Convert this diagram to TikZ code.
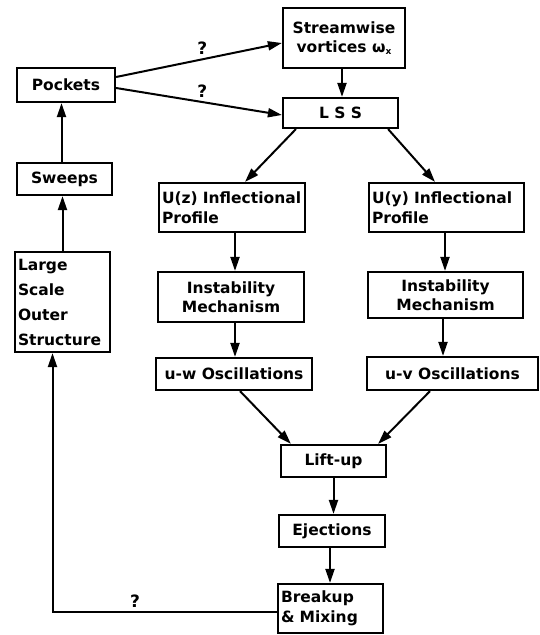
\documentclass[tikz,border=0pt]{standalone}
\usepackage{fontspec}
\setmainfont{DejaVu Sans}
\usetikzlibrary{arrows.meta}
\begin{document}
\begin{tikzpicture}[x=1pt,y=-1pt,
  box/.style={draw,line width=2.2pt,inner sep=3pt,font=\fontsize{15.5}{19.5}\selectfont\bfseries},
  lbox/.style={box,align=left},
  cbox/.style={box,align=center},
  conn/.style={line width=2pt,-{Triangle[length=14pt,width=9pt]}},
  qm/.style={font=\fontsize{17}{19}\selectfont\bfseries}]
\useasboundingbox (0,0) rectangle (540,635);
\node[cbox,minimum width=122pt,minimum height=60pt] (stream) at (344,38) {Streamwise\\vortices ω\raisebox{-2pt}{\fontsize{9}{9}\selectfont x}};
\node[cbox,minimum width=98pt,minimum height=34pt] (pockets) at (66,85) {Pockets};
\node[cbox,minimum width=115pt,minimum height=30pt] (lss) at (340.5,113) {L S S};
\node[cbox,minimum width=95pt,minimum height=32pt] (sweeps) at (64.5,179) {Sweeps};
\node[lbox,minimum width=95pt,minimum height=100pt,text width=89pt,font=\fontsize{15.5}{25}\selectfont\bfseries] (large) at (62.5,302) {Large\\Scale\\Outer\\Structure};
\node[lbox,minimum width=146pt,minimum height=49pt,text width=140pt] (uz) at (232,207.5) {U(z) Inflectional\\Profile};
\node[cbox,minimum width=146pt,minimum height=50pt] (instL) at (231,297) {Instability\\Mechanism};
\node[cbox,minimum width=156pt,minimum height=32pt] (uw) at (234,374) {u-w Oscillations};
\node[lbox,minimum width=155pt,minimum height=49pt,text width=149pt] (uy) at (446.5,207.5) {U(y) Inflectional\\Profile};
\node[cbox,minimum width=155pt,minimum height=46pt] (instR) at (445.5,295) {Instability\\Mechanism};
\node[cbox,minimum width=171pt,minimum height=33pt] (uv) at (452.5,373.5) {u-v Oscillations};
\node[cbox,minimum width=105pt,minimum height=32pt] (lift) at (333.5,461) {Lift-up};
\node[cbox,minimum width=106pt,minimum height=32pt] (eject) at (332,531) {Ejections};
\node[lbox,minimum width=105pt,minimum height=49pt,text width=99pt] (breakup) at (330.5,608.5) {Breakup\\\& Mixing};
% connectors
\draw[conn] ([yshift=8pt]pockets.east) -- node[qm,above,pos=0.52] {?} ([yshift=-5pt]stream.west);
\draw[conn] ([yshift=-3pt]pockets.east) -- node[qm,above,pos=0.52] {?} ([yshift=-2pt]lss.west);
\draw[conn] ([xshift=-2pt]stream.south) -- ([xshift=-2pt]stream.south |- lss.north);
\draw[conn] ([xshift=14pt]lss.south west) -- ([xshift=13pt]uz.north);
\draw[conn] ([xshift=-11pt]lss.south east) -- ([xshift=-11.5pt]uy.north);
\draw[conn] ([xshift=-3pt]sweeps.north) -- ([xshift=-3pt]sweeps.north |- pockets.south);
\draw[conn] (large.north) -- (large.north |- sweeps.south);
\draw[conn] ([yshift=-3.5pt]breakup.west) -| node[qm,above,pos=0.316] {?} ([xshift=-10pt]large.south);
\draw[conn] ([xshift=3pt]uz.south) -- ([xshift=3pt]uz.south |- instL.north);
\draw[conn] ([xshift=4pt]instL.south) -- ([xshift=4pt]instL.south |- uw.north);
\draw[conn] ([xshift=-1.5pt]uy.south) -- ([xshift=-1.5pt]uy.south |- instR.north);
\draw[conn] ([xshift=-2.5pt]instR.south) -- ([xshift=-2.5pt]instR.south |- uv.north);
\draw[conn] ([xshift=6pt]uw.south) -- ([xshift=11pt]lift.north west);
\draw[conn] ([xshift=-22.5pt]uv.south) -- ([xshift=-9pt]lift.north east);
\draw[conn] (lift.south) -- (lift.south |- eject.north);
\draw[conn] ([xshift=-2pt]eject.south) -- ([xshift=-2pt]eject.south |- breakup.north);
\end{tikzpicture}
\end{document}
